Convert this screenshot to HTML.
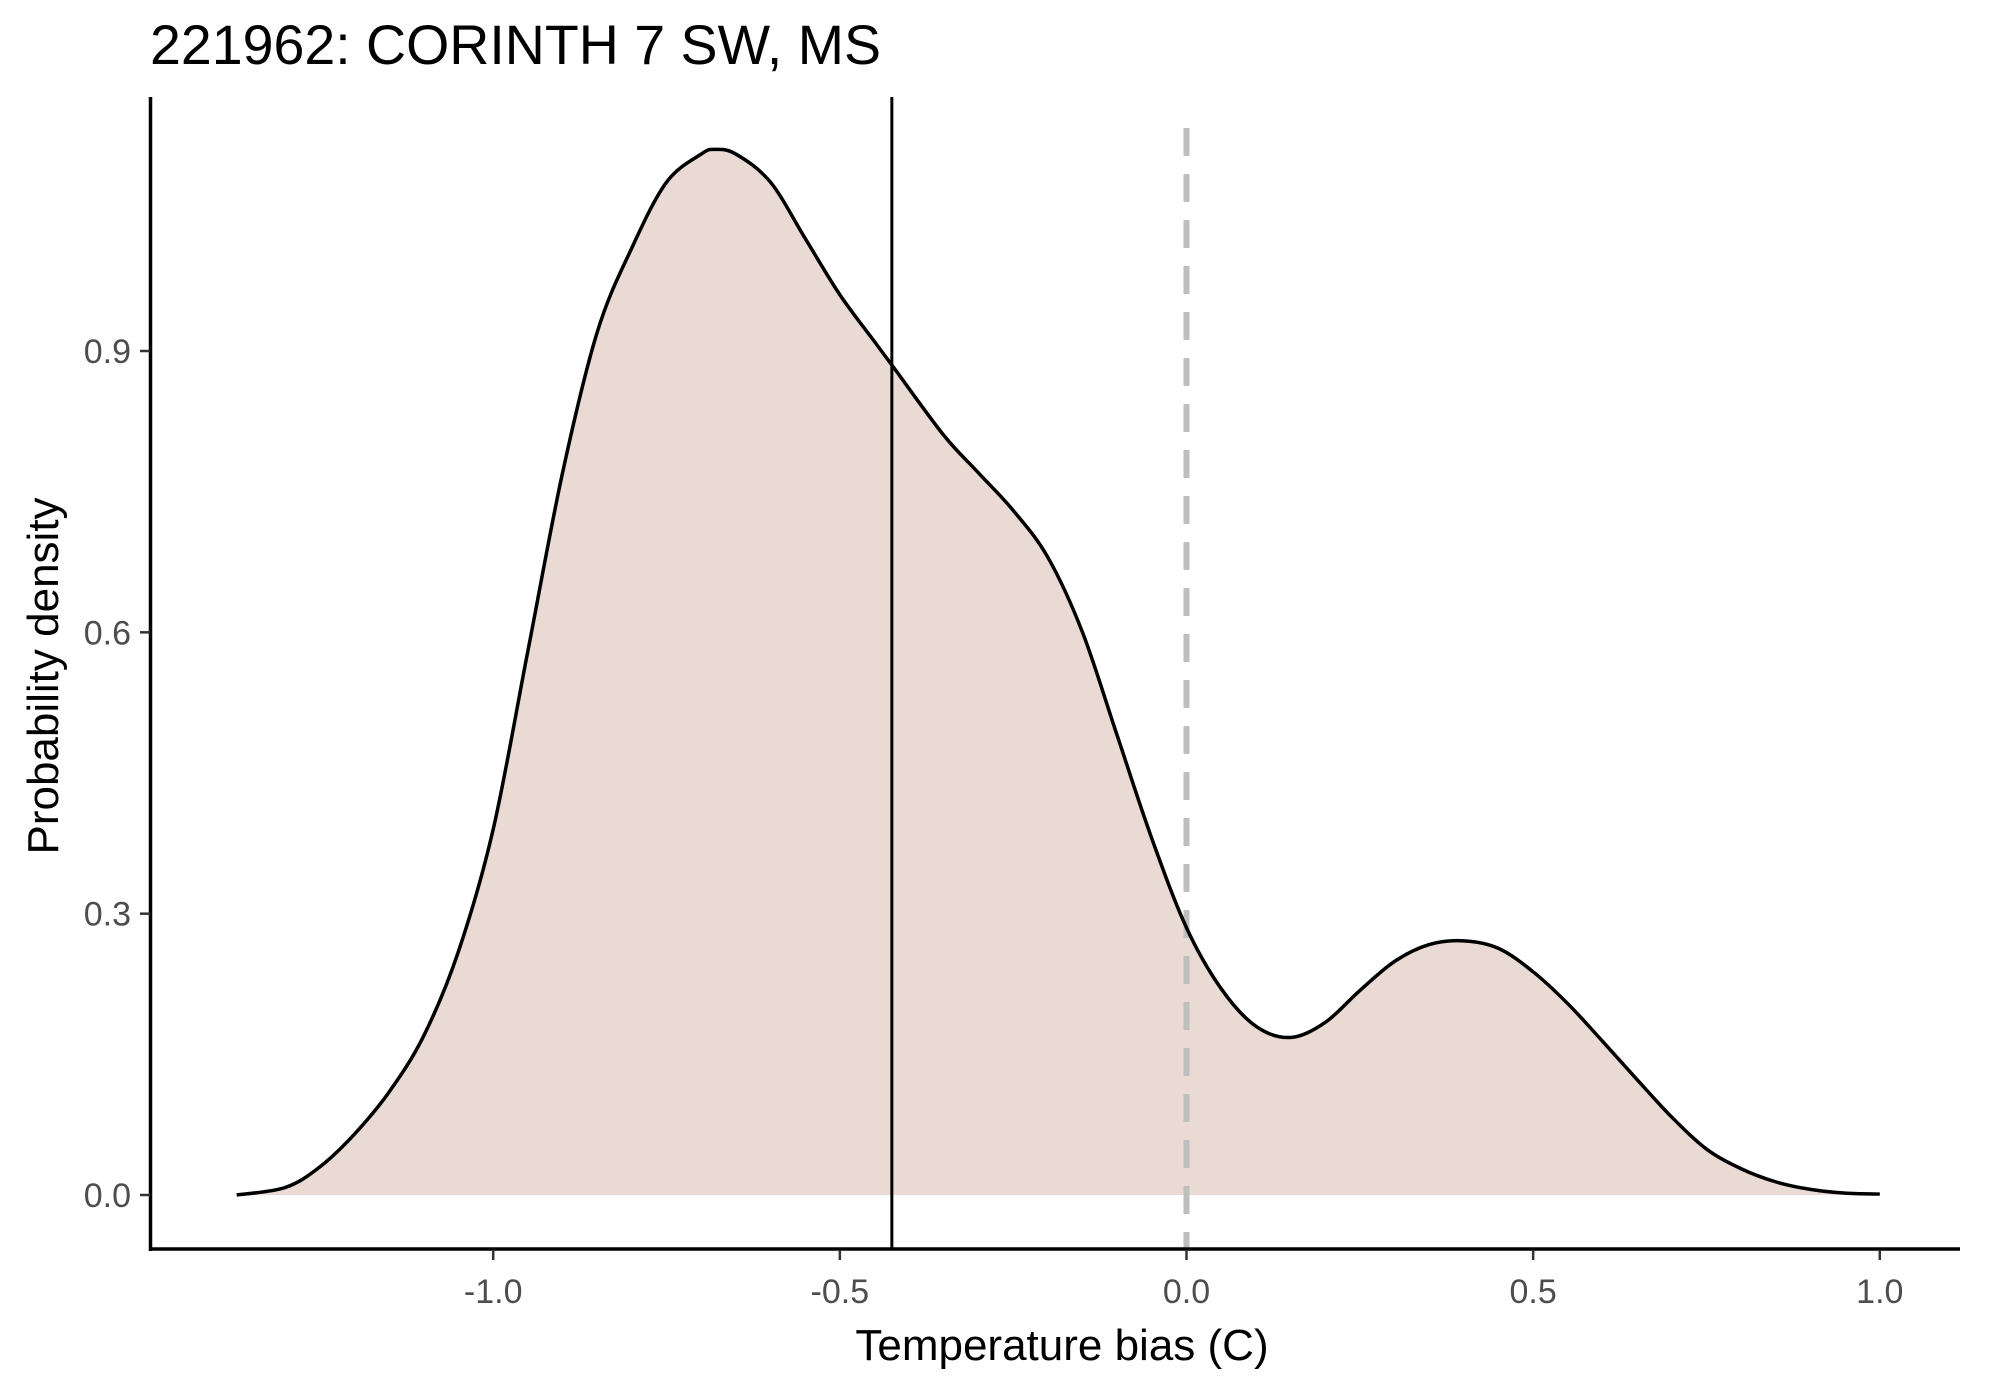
<!DOCTYPE html>
<html><head><meta charset="utf-8"><style>
html,body{margin:0;padding:0;background:#fff;}
svg{display:block;font-family:"Liberation Sans",Arial,sans-serif;}
</style></head><body>
<svg id="chart" width="1990" height="1384">
<text x="150" y="64" font-size="55.5" fill="#000">221962: CORINTH 7 SW, MS</text>
<g id="plot"></g>
<line x1="150.5" y1="97" x2="150.5" y2="1251" stroke="#000" stroke-width="3.5"/>
<line x1="149" y1="1249" x2="1960" y2="1249" stroke="#000" stroke-width="3.5"/>
<g id="axes"></g>
<text x="1062" y="1360" font-size="44" text-anchor="middle" fill="#000">Temperature bias (C)</text>
<text transform="translate(58,676) rotate(-90)" font-size="44" text-anchor="middle" fill="#000">Probability density</text>
</svg>
<script>
const xs=[-1.37,-1.3,-1.25,-1.2,-1.15,-1.1,-1.05,-1.0,-0.95,-0.9,-0.85,-0.8,-0.75,-0.7,-0.68,-0.65,-0.6,-0.55,-0.5,-0.45,-0.42,-0.35,-0.3,-0.25,-0.2,-0.15,-0.1,-0.05,0.0,0.05,0.1,0.15,0.2,0.25,0.3,0.35,0.4,0.45,0.5,0.55,0.6,0.65,0.7,0.75,0.8,0.85,0.9,0.95,1.0];
const densities=[0.0,0.008,0.03,0.065,0.11,0.17,0.26,0.39,0.58,0.77,0.92,1.01,1.08,1.11,1.115,1.11,1.08,1.02,0.96,0.91,0.88,0.81,0.77,0.73,0.68,0.60,0.49,0.38,0.285,0.22,0.18,0.168,0.184,0.218,0.249,0.267,0.271,0.263,0.238,0.204,0.164,0.123,0.083,0.049,0.028,0.014,0.006,0.002,0.001];
const xTicks=[-1.0,-0.5,0.0,0.5,1.0];
const xTickLabels=["-1.0","-0.5","0.0","0.5","1.0"];
const yTicks=[0.0,0.3,0.6,0.9];
const yTickLabels=["0.0","0.3","0.6","0.9"];
const meanBias=-0.425;
const zeroRef=0.0;

const NS="http://www.w3.org/2000/svg";
const X=v=>1186.5+v*693.3;
const Y=v=>1195-v*(844/0.9);
const plot=document.getElementById('plot'),axes=document.getElementById('axes');
function mk(tag,attrs,parent){const e=document.createElementNS(NS,tag);for(const k in attrs)e.setAttribute(k,attrs[k]);parent.appendChild(e);return e;}
const pts=xs.map((x,i)=>[X(x),Y(densities[i])]);
let d="M"+pts[0][0]+","+pts[0][1];
for(let i=0;i<pts.length-1;i++){const p0=pts[Math.max(0,i-1)],p1=pts[i],p2=pts[i+1],p3=pts[Math.min(pts.length-1,i+2)];
d+=` C${p1[0]+(p2[0]-p0[0])/6},${p1[1]+(p2[1]-p0[1])/6} ${p2[0]-(p3[0]-p1[0])/6},${p2[1]-(p3[1]-p1[1])/6} ${p2[0]},${p2[1]}`;}
const area=mk('path',{d:d+` L${pts[pts.length-1][0]},${Y(0)} L${pts[0][0]},${Y(0)} Z`,fill:'#eadad4',stroke:'none'},plot);


const dz=mk('line',{x1:X(zeroRef),x2:X(zeroRef),y1:128,y2:1249,stroke:'#bebebe','stroke-width':6,'stroke-dasharray':'28,18'},plot);


const curve=mk('path',{d:d,fill:'none',stroke:'#000','stroke-width':3.5},plot);


const ml=mk('line',{x1:X(meanBias),x2:X(meanBias),y1:97,y2:1249,stroke:'#000','stroke-width':3},plot);


xTicks.forEach((v,i)=>{const t=mk('line',{x1:X(v),x2:X(v),y1:1250,y2:1260,stroke:'#333','stroke-width':2.5},axes);


const l=mk('text',{x:X(v),y:1303,'font-size':34,'text-anchor':'middle',fill:'#4d4d4d'},axes);l.textContent=xTickLabels[i];

});
yTicks.forEach((v,i)=>{const t=mk('line',{x1:140,x2:150,y1:Y(v),y2:Y(v),stroke:'#333','stroke-width':2.5},axes);


const l=mk('text',{x:131,y:Y(v)+12,'font-size':34,'text-anchor':'end',fill:'#4d4d4d'},axes);l.textContent=yTickLabels[i];

});
</script>
</body></html>
